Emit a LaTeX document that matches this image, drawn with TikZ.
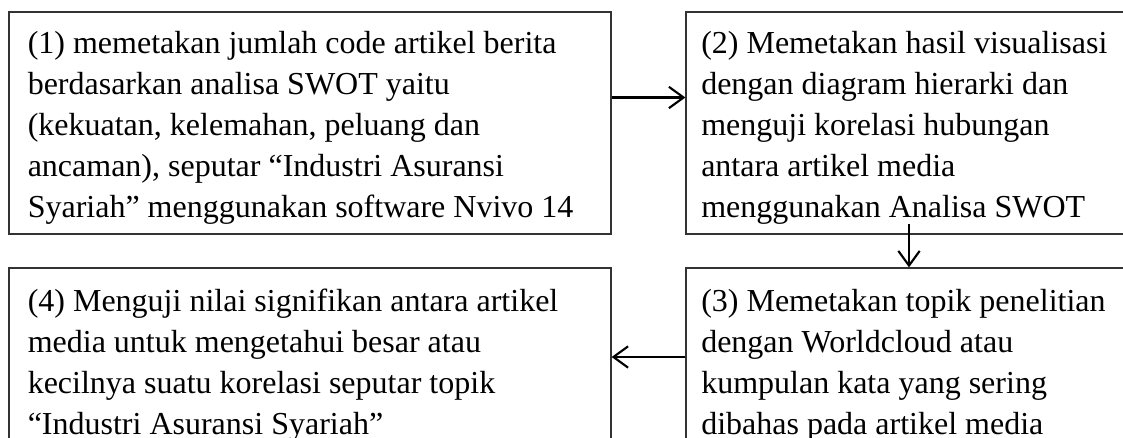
\documentclass[tikz,border=0pt]{standalone}
\usepackage{fontspec}
\setmainfont{Liberation Serif}
\usetikzlibrary{arrows.meta,fit}
\begin{document}
\begin{tikzpicture}[x=0.75pt,y=-0.75pt,
  box/.style={draw=black!80,line width=0.9pt,inner sep=0pt},
  txt/.style={anchor=north west,inner sep=0pt,align=left,font=\fontsize{24}{30.75}\selectfont},
  arr/.style={draw=black,line width=1.6pt,-{Straight Barb[length=11pt,width=16pt,line width=1.6pt]}}]
\useasboundingbox (0,0) rectangle (1123,438);
\clip (0,0) rectangle (1123,438);
% boxes
\node[box,fit={(9,12) (611,234)}] (b1) {};
\node[box,fit={(686,12) (1140,234)}] (b2) {};
\node[box,fit={(686,268) (1140,470)}] (b3) {};
\node[box,fit={(9,268) (611,470)}] (b4) {};
% texts
\node[txt] (t1) at (27.5,25) {\strut(1) memetakan jumlah code artikel berita\\berdasarkan analisa SWOT yaitu\\(kekuatan, kelemahan, peluang dan\\ancaman), seputar “Industri Asuransi\\Syariah” menggunakan software Nvivo 14};
\node[txt] (t2) at (701,25) {\strut(2) Memetakan hasil visualisasi\\dengan diagram hierarki dan\\menguji korelasi hubungan\\antara artikel media\\menggunakan Analisa SWOT};
\node[txt] (t3) at (701,283) {\strut(3) Memetakan topik penelitian\\dengan Worldcloud atau\\kumpulan kata yang sering\\dibahas pada artikel media};
\node[txt] (t4) at (27.5,283) {\strut(4) Menguji nilai signifikan antara artikel\\media untuk mengetahui besar atau\\kecilnya suatu korelasi seputar topik\\“Industri Asuransi Syariah”};
% connectors
\coordinate (s23) at (909,224);
\draw[arr] (b1.east |- 0,97.5) -- (b2.west |- 0,97.5);
\draw[arr] (s23) -- (s23 |- b3.north);
\draw[arr] (b3.west |- 0,357) -- (b4.east |- 0,357);
\end{tikzpicture}
\end{document}
